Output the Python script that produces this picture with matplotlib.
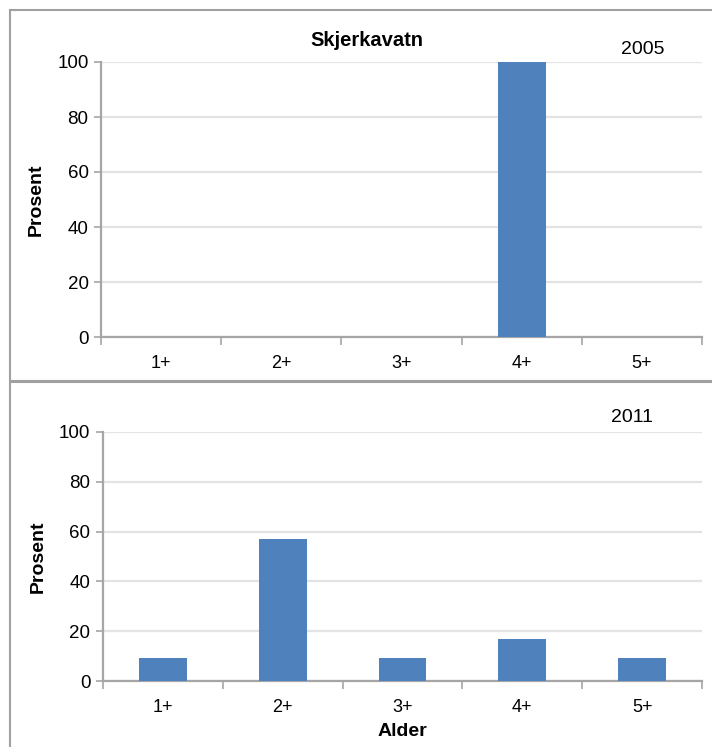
import numpy as np
import matplotlib
matplotlib.use('Agg')
import matplotlib.pyplot as plt
from matplotlib.patches import Rectangle

plt.rcParams['font.family'] = ['Liberation Sans', 'DejaVu Sans']

#### DATA ####
ages = ['1+', '2+', '3+', '4+', '5+']
pct_2005 = [0, 0, 0, 100, 0]
pct_2011 = [9.1, 57.1, 9.1, 16.7, 9.1]
years = ['2005', '2011']
lake = 'Skjerkavatn'

bar_col = '#4f81bd'
grid_col = '#e3e3e3'
spine_col = '#a6a6a6'

fig = plt.figure(figsize=(7.12, 7.47), dpi=100)

# panel frames (Excel chart borders)
fig.patches.append(Rectangle((10/712, 1 - 381/747), 1.0, 371/747, transform=fig.transFigure,
                             fill=False, edgecolor='#a0a0a0', linewidth=1.5))
fig.patches.append(Rectangle((10/712, -0.01), 1.0, (747 - 382)/747 + 0.01, transform=fig.transFigure,
                             fill=False, edgecolor='#a0a0a0', linewidth=1.5))

ax1 = fig.add_axes([101/712, 1 - 337/747, (702 - 101)/712, 275/747])
ax2 = fig.add_axes([103/712, 1 - 681/747, (702 - 103)/712, 249/747])


def style(ax, vals):
    x = np.arange(len(ages))
    ax.bar(x, vals, width=0.4, color=bar_col, zorder=3)
    ax.set_xlim(-0.5, len(ages) - 0.5)
    ax.set_ylim(0, 100)
    ax.set_yticks(np.arange(0, 101, 20))
    ax.yaxis.grid(True, color=grid_col, linewidth=1.6, zorder=0)
    ax.set_xticks(x)
    ax.set_xticklabels(ages, fontsize=13)
    ax.set_xticks(np.arange(-0.5, len(ages)), minor=True)
    ax.tick_params(axis='x', which='major', length=0, pad=13)
    ax.tick_params(axis='x', which='minor', length=6, width=1.2, color=spine_col, direction='out')
    ax.tick_params(axis='y', length=5, width=1.2, color=spine_col, labelsize=13.5, pad=4)
    for s in ['top', 'right']:
        ax.spines[s].set_visible(False)
    for s in ['left', 'bottom']:
        ax.spines[s].set_color(spine_col)
        ax.spines[s].set_linewidth(1.6)
    ax.set_ylabel('Prosent', fontsize=14, fontweight='bold', labelpad=9)


style(ax1, pct_2005)
style(ax2, pct_2011)

fig.text(643/712, 1 - 50/747, years[0], fontsize=14, ha='center', va='center')
fig.text(632/712, 1 - 418/747, years[1], fontsize=14, ha='center', va='center')
fig.text(367/712, 1 - 41/747, lake, fontsize=14.5, fontweight='bold', ha='center', va='center')
fig.text(402/712, 1 - 732/747, 'Alder', fontsize=14, fontweight='bold', ha='center', va='center')

fig.savefig('out.png', dpi=100)
